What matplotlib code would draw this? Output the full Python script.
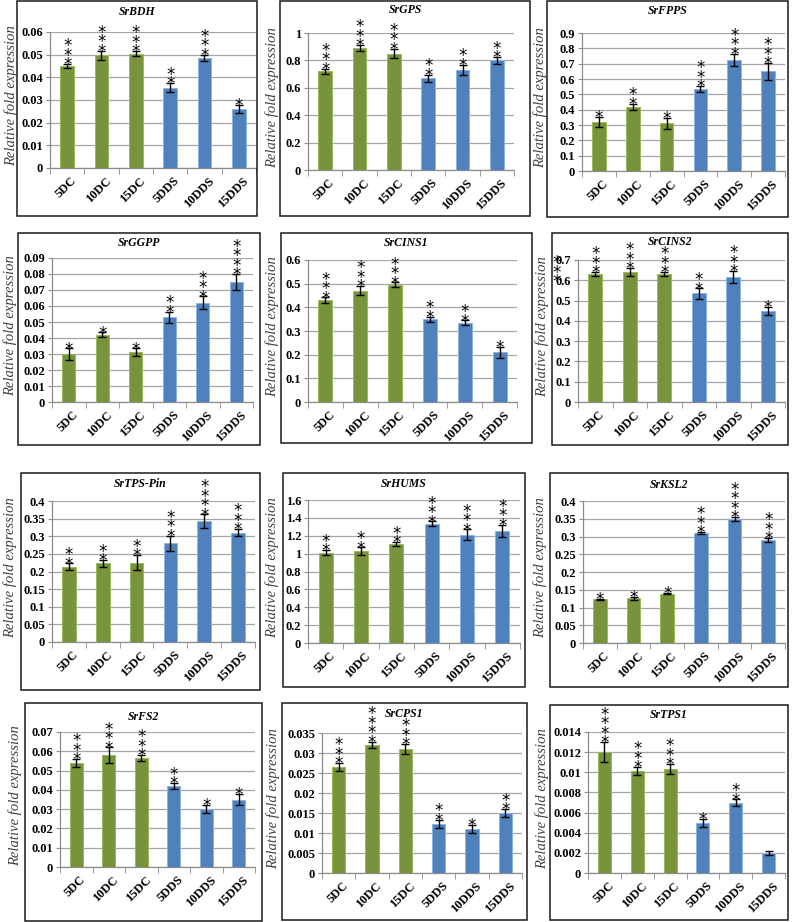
import matplotlib
matplotlib.use('Agg')
import matplotlib.pyplot as plt
import matplotlib.transforms as mtrans
from matplotlib.patches import Rectangle
import numpy as np

# ---------------- data ----------------
categories = ['5DC', '10DC', '15DC', '5DDS', '10DDS', '15DDS']

srbdh = [0.045, 0.0497, 0.0505, 0.0355, 0.0485, 0.026]
srbdh_err = [0.0008, 0.002, 0.001, 0.002, 0.0015, 0.0017]
srbdh_sig = [3, 3, 3, 2, 3, 1]

srgps = [0.72, 0.89, 0.85, 0.67, 0.73, 0.80]
srgps_err = [0.02, 0.02, 0.035, 0.025, 0.04, 0.025]
srgps_sig = [3, 3, 3, 2, 2, 2]

srfpps = [0.32, 0.42, 0.31, 0.535, 0.725, 0.65]
srfpps_err = [0.035, 0.02, 0.035, 0.02, 0.04, 0.055]
srfpps_sig = [1, 2, 1, 3, 3, 3]

srggpp = [0.030, 0.042, 0.031, 0.053, 0.062, 0.075]
srggpp_err = [0.0035, 0.0015, 0.0025, 0.0035, 0.004, 0.005]
srggpp_sig = [1, 1, 1, 2, 3, 4]

srcins1 = [0.43, 0.47, 0.495, 0.35, 0.335, 0.21]
srcins1_err = [0.012, 0.02, 0.01, 0.01, 0.01, 0.022]
srcins1_sig = [3, 3, 3, 2, 2, 1]

srcins2 = [0.63, 0.64, 0.63, 0.535, 0.615, 0.45]
srcins2_err = [0.01, 0.02, 0.01, 0.025, 0.03, 0.02]
srcins2_sig = [3, 3, 3, 2, 3, 1]

srtpspin = [0.213, 0.223, 0.225, 0.28, 0.342, 0.31]
srtpspin_err = [0.01, 0.01, 0.022, 0.022, 0.02, 0.01]
srtpspin_sig = [2, 2, 2, 3, 4, 3]

srhums = [1.01, 1.03, 1.11, 1.335, 1.21, 1.255]
srhums_err = [0.03, 0.04, 0.02, 0.025, 0.06, 0.07]
srhums_sig = [2, 2, 2, 3, 3, 3]

srksl2 = [0.123, 0.126, 0.139, 0.31, 0.35, 0.29]
srksl2_err = [0.002, 0.004, 0.002, 0.002, 0.005, 0.005]
srksl2_sig = [1, 1, 1, 3, 4, 3]

srfs2 = [0.054, 0.058, 0.0565, 0.042, 0.030, 0.035]
srfs2_err = [0.002, 0.004, 0.0015, 0.0015, 0.002, 0.003]
srfs2_sig = [3, 3, 3, 2, 1, 1]

srcps1 = [0.0265, 0.032, 0.031, 0.0123, 0.011, 0.015]
srcps1_err = [0.001, 0.0008, 0.0012, 0.001, 0.001, 0.001]
srcps1_sig = [3, 4, 3, 2, 1, 2]

srtps1 = [0.012, 0.0101, 0.0103, 0.005, 0.007, 0.002]
srtps1_err = [0.001, 0.0004, 0.0005, 0.0004, 0.0003, 0.0002]
srtps1_sig = [4, 3, 3, 1, 2, 0]

# ---------------- layout ----------------
W, H, DPI = 794, 922, 100
SERIF = 'Liberation Serif'
GREEN, BLUE = '#77933C', '#4F81BD'
GREEN_E, BLUE_E = '#9BBB59', '#8EB4E3'
GRAY = '#8C8C8C'

fig = plt.figure(figsize=(W / DPI, H / DPI), dpi=DPI)
fig.patch.set_facecolor('white')

# gene, vals, err, sig, ymax, step, box(L,T,R,B), axes(L,R,T,B), ylabel x, title y
panels = [
    ('SrBDH', srbdh, srbdh_err, srbdh_sig, 0.06, 0.01, (17, 1, 257, 216), (50, 256, 32, 168), 11, 12),
    ('SrGPS', srgps, srgps_err, srgps_sig, 1.0, 0.2, (280, 1, 530, 216), (308, 514, 33, 170), 272, 10),
    ('SrFPPS', srfpps, srfpps_err, srfpps_sig, 0.9, 0.1, (547, 1, 788, 217), (582, 785, 33, 171), 540, 11),
    ('SrGGPP', srggpp, srggpp_err, srggpp_sig, 0.09, 0.01, (18, 233, 260, 445), (52, 253, 258, 402), 10, 243),
    ('SrCINS1', srcins1, srcins1_err, srcins1_sig, 0.6, 0.1, (281, 233, 532, 443), (308, 517, 260, 402), 272, 243),
    ('SrCINS2', srcins2, srcins2_err, srcins2_sig, 0.7, 0.1, (552, 233, 788, 445), (578, 785, 260, 402), 542, 242),
    ('SrTPS-Pin', srtpspin, srtpspin_err, srtpspin_sig, 0.4, 0.05, (21, 473, 260, 690), (52, 255, 501, 642), 10, 484),
    ('SrHUMS', srhums, srhums_err, srhums_sig, 1.6, 0.2, (283, 473, 525, 687), (308, 520, 500, 643), 272, 484),
    ('SrKSL2', srksl2, srksl2_err, srksl2_sig, 0.4, 0.05, (550, 473, 788, 687), (583, 785, 501, 643), 540, 485),
    ('SrFS2', srfs2, srfs2_err, srfs2_sig, 0.07, 0.01, (25, 703, 262, 921), (60, 255, 732, 867), 15, 717),
    ('SrCPS1', srcps1, srcps1_err, srcps1_sig, 0.035, 0.005, (282, 703, 527, 920), (322, 522, 733, 873), 273, 714),
    ('SrTPS1', srtps1, srtps1_err, srtps1_sig, 0.014, 0.002, (550, 705, 788, 920), (588, 785, 732, 873), 542, 715),
]

STAR_FS = 12
EM = STAR_FS * DPI / 72.0
LP_D = 0.21 * EM          # descent used by matplotlib's line layout
STAR_C = 0.58 * EM        # asterisk ink centre above baseline
STAR_GAP = 8.5            # px between stacked asterisks
STAR_LS = (STAR_GAP - LP_D) / (0.76 * EM)
STAR_OFF = 3.0 - LP_D - STAR_C   # bottom of text box relative to error-bar top

for gene, vals, err, sig, ymax, step, box, axr, ylx, tty in panels:
    bL, bT, bR, bB = box
    aL, aR, aT, aB = axr
    ax = fig.add_axes([aL / W, 1 - aB / H, (aR - aL) / W, (aB - aT) / H])
    x = np.arange(len(categories))
    cols = [GREEN] * 3 + [BLUE] * 3
    ecols = [GREEN_E] * 3 + [BLUE_E] * 3
    ax.bar(x, vals, width=0.4, color=cols, edgecolor=ecols, linewidth=0.7, zorder=3)
    ax.errorbar(x, vals, yerr=err, fmt='none', ecolor='black', elinewidth=1.0,
                capsize=3, capthick=1.0, zorder=4)
    ax.set_xlim(-0.5, 5.5)
    ax.set_ylim(0, ymax)
    yt = np.arange(0, ymax + step / 2, step)
    ax.set_yticks(yt)
    ax.set_yticklabels(['%g' % round(v, 6) for v in yt], fontfamily=SERIF,
                       fontweight='bold', fontsize=9)
    ax.yaxis.grid(True, color='#A6A6A6', linewidth=0.9, zorder=0)
    ax.set_axisbelow(True)
    for s in ['top', 'right']:
        ax.spines[s].set_visible(False)
    for s in ['left', 'bottom']:
        ax.spines[s].set_color(GRAY)
        ax.spines[s].set_linewidth(0.9)
    ax.tick_params(axis='y', length=3, color=GRAY, pad=2)
    ax.set_xticks(x)
    ax.set_xticklabels(categories, rotation=45, ha='right', va='top',
                       rotation_mode='anchor', fontfamily=SERIF,
                       fontweight='bold', fontsize=9)
    ax.set_xticks(np.arange(-0.5, 6, 1), minor=True)
    ax.tick_params(axis='x', which='major', length=0, pad=5)
    ax.tick_params(axis='x', which='minor', length=4, color=GRAY)
    off = mtrans.ScaledTranslation(3.5 / DPI, 0, fig.dpi_scale_trans)
    for t in ax.get_xticklabels():
        t.set_transform(t.get_transform() + off)

    # significance asterisks (one stacked text per bar)
    for i, (v, e, n) in enumerate(zip(vals, err, sig)):
        if n == 0:
            continue
        ax.annotate('\n'.join(['*'] * n), xy=(i, v + e), xytext=(0, STAR_OFF),
                    textcoords='offset pixels', ha='center', va='bottom',
                    multialignment='center', linespacing=STAR_LS,
                    fontsize=STAR_FS, fontfamily='DejaVu Sans',
                    annotation_clip=False, zorder=6)

    # title, y label, panel frame
    fig.text((bL + bR) / 2 / W, 1 - tty / H, gene, ha='center', va='center',
             fontfamily=SERIF, fontweight='bold', fontstyle='italic', fontsize=8.5)
    fig.text(ylx / W, 1 - ((aT + aB) / 2 - 4) / H, 'Relative fold expression',
             rotation=90, ha='center', va='center', fontfamily=SERIF,
             fontstyle='italic', fontsize=10.5, color='#404040')
    fig.add_artist(Rectangle((bL / W, 1 - bB / H), (bR - bL) / W, (bB - bT) / H,
                             transform=fig.transFigure, fill=False,
                             edgecolor='#1a1a1a', linewidth=1.1))

# stray asterisks over the SrCINS2 axis labels (as in the source figure)
fig.text(557 / W, 1 - (278 + LP_D + STAR_C) / H, '*\n*\n*',
         ha='center', va='bottom', multialignment='center', linespacing=STAR_LS,
         fontsize=STAR_FS, fontfamily='DejaVu Sans')

fig.savefig('out.png', dpi=DPI, facecolor='white')
